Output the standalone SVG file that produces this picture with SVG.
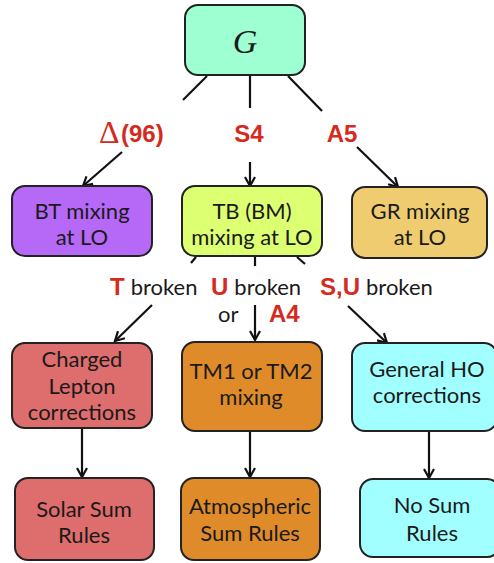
<svg xmlns="http://www.w3.org/2000/svg" width="494" height="563" viewBox="0 0 494 563">
<defs>
<marker id="ah" markerWidth="12" markerHeight="12" refX="10" refY="6" orient="auto" markerUnits="userSpaceOnUse">
<path d="M1,1 L10,6 L1,11" fill="none" stroke="#111" stroke-width="2.2" stroke-linejoin="miter"/>
</marker>
</defs>
<style>
.box{stroke:#222;stroke-width:2}
.t{font-family:"Lato","Open Sans",sans-serif;font-size:22px;fill:#1a1a1a;text-anchor:middle}
.r{font-family:"Liberation Sans",Arial,sans-serif;font-weight:bold;font-size:24px;fill:#d42a20}
.k{font-family:"Lato","Open Sans",sans-serif;font-size:22px;fill:#1a1a1a}
.c line{stroke:#111;stroke-width:2.2}
</style>
<rect width="494" height="563" fill="#ffffff"/>
<g class="c">
<line x1="207" y1="76" x2="183" y2="100"/>
<line x1="250" y1="76" x2="250" y2="108"/>
<line x1="288" y1="76" x2="322" y2="111"/>
<line x1="122" y1="152" x2="83" y2="186" marker-end="url(#ah)"/>
<line x1="250" y1="162" x2="250" y2="186" marker-end="url(#ah)"/>
<line x1="357" y1="147" x2="398" y2="187" marker-end="url(#ah)"/>
<line x1="196" y1="257" x2="191" y2="263"/>
<line x1="255" y1="257" x2="255" y2="266"/>
<line x1="297" y1="257" x2="305" y2="264"/>
<line x1="152" y1="305" x2="115" y2="341" marker-end="url(#ah)"/>
<line x1="255" y1="305" x2="255" y2="340" marker-end="url(#ah)"/>
<line x1="348" y1="306" x2="387" y2="343" marker-end="url(#ah)"/>
<line x1="82" y1="429" x2="82" y2="477" marker-end="url(#ah)"/>
<line x1="250" y1="432" x2="250" y2="477" marker-end="url(#ah)"/>
<line x1="429" y1="432" x2="429" y2="478" marker-end="url(#ah)"/>
</g>
<g id="G">
<rect class="box" x="185" y="5" width="120" height="70" rx="13" fill="#9effd2"/>
<text x="245" y="53" font-family="Liberation Serif,serif" font-style="italic" font-size="34" fill="#1a1a1a" text-anchor="middle">G</text>
</g>
<g id="labels1">
<text x="99" y="143" font-family="Liberation Serif,serif" font-size="32" fill="#d42a20">Δ</text>
<text x="121" y="142" class="r">(96)</text>
<text x="249" y="142" class="r" text-anchor="middle">S4</text>
<text x="342" y="142" class="r" text-anchor="middle">A5</text>
</g>
<g id="BT">
<rect class="box" x="12" y="186" width="140" height="70" rx="13" fill="#b668f7"/>
<text class="t" x="82" y="219">BT mixing</text>
<text class="t" x="82" y="245">at LO</text>
</g>
<g id="TB">
<rect class="box" x="182" y="186" width="140" height="70" rx="13" fill="#ddff72"/>
<text class="t" x="252" y="219">TB (BM)</text>
<text class="t" x="252" y="245">mixing at LO</text>
</g>
<g id="GR">
<rect class="box" x="352" y="187" width="135" height="71" rx="13" fill="#efcc70"/>
<text class="t" x="420" y="219">GR mixing</text>
<text class="t" x="420" y="245">at LO</text>
</g>
<g id="labels2">
<text x="110" y="295"><tspan class="r">T</tspan><tspan class="k" dx="6">broken</tspan></text>
<text x="211" y="295"><tspan class="r">U</tspan><tspan class="k" dx="6">broken</tspan></text>
<text x="320" y="295"><tspan class="r">S,U</tspan><tspan class="k" dx="6">broken</tspan></text>
<text x="218" y="322" class="k">or</text>
<text x="269" y="322" class="r">A4</text>
</g>
<g id="CL">
<rect class="box" x="12" y="343" width="140" height="85" rx="13" fill="#de6d6d"/>
<text class="t" x="82" y="367">Charged</text>
<text class="t" x="82" y="394">Lepton</text>
<text class="t" x="82" y="420">corrections</text>
</g>
<g id="TM">
<rect class="box" x="182" y="342" width="140" height="89" rx="13" fill="#e08b2a"/>
<text class="t" x="251" y="379">TM1 or TM2</text>
<text class="t" x="251" y="405">mixing</text>
</g>
<g id="HO">
<rect class="box" x="352" y="343" width="145" height="88" rx="13" fill="#a2ffff"/>
<text class="t" x="427" y="377">General HO</text>
<text class="t" x="427" y="403">corrections</text>
</g>
<g id="SS">
<rect class="box" x="15" y="478" width="139" height="82" rx="13" fill="#de6d6d"/>
<text class="t" x="84" y="517">Solar Sum</text>
<text class="t" x="84" y="543">Rules</text>
</g>
<g id="AS">
<rect class="box" x="181" y="478" width="139" height="82" rx="13" fill="#e08b2a"/>
<text class="t" x="250" y="514">Atmospheric</text>
<text class="t" x="250" y="541">Sum Rules</text>
</g>
<g id="NS">
<rect class="box" x="360" y="479" width="140" height="78" rx="13" fill="#a2ffff"/>
<text class="t" x="432" y="513">No Sum</text>
<text class="t" x="432" y="541">Rules</text>
</g>
</svg>
